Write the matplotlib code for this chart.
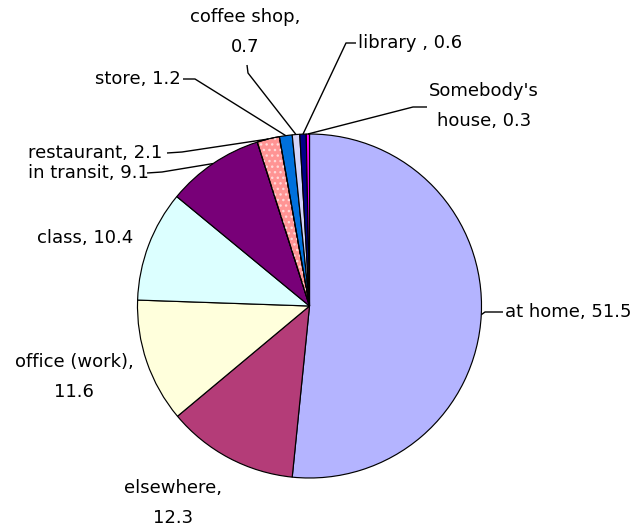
import matplotlib
matplotlib.use('Agg')
import matplotlib.pyplot as plt
import numpy as np
from matplotlib.patches import Wedge

# ---- data ----
categories = ['at home', 'elsewhere', 'office (work)', 'class', 'in transit',
              'restaurant', 'store', 'coffee shop', 'library', "Somebody's house"]
values = [51.5, 12.3, 11.6, 10.4, 9.1, 2.1, 1.2, 0.7, 0.6, 0.3]
label_texts = ['at home, 51.5', 'elsewhere,\n12.3', 'office (work),\n11.6',
               'class, 10.4', 'in transit, 9.1', 'restaurant, 2.1', 'store, 1.2',
               'coffee shop,\n0.7', 'library , 0.6', "Somebody's\nhouse, 0.3"]

# ---- style ----
colors = ['#B4B4FF', '#B43C78', '#FFFFDC', '#DCFFFF', '#780078',
          '#FF9494', '#0070DC', '#D4D4FA', '#000088', '#FF00FF']

W, H = 642, 527
fig = plt.figure(figsize=(W / 100, H / 100), dpi=100)
ax = fig.add_axes([0, 0, 1, 1])

def Y(py):
    return H - py

cx, cy, R = 309.5, Y(306), 172
wedges, _ = ax.pie(values, startangle=90, counterclock=False, colors=colors,
                   center=(cx, cy), radius=R,
                   wedgeprops=dict(edgecolor='black', linewidth=0.85))

# hatch overlay for restaurant slice
w = wedges[5]
ax.add_patch(Wedge(w.center, w.r, w.theta1, w.theta2, facecolor='none',
                   edgecolor='#FFD8D8', hatch='...', linewidth=0))
ax.add_patch(Wedge(w.center, w.r, w.theta1, w.theta2, facecolor='none',
                   edgecolor='black', linewidth=0.85))

ax.set_xlim(0, W)
ax.set_ylim(0, H)
ax.set_aspect('equal')
ax.axis('off')

# label layout: (x, y, ha, leader points in pixel coords from text side)
layout = [
    (505, 312, 'left', [(503, 312), (485, 312)]),
    (173, 503, 'center', None),
    (74, 377, 'center', None),
    (37, 238, 'left', None),
    (28, 173, 'left', [(147, 173), (162, 172)]),
    (28, 153, 'left', [(167, 153), (182, 152)]),
    (181, 79, 'right', [(183, 79), (195, 79)]),
    (245, 32, 'center', [(247, 65), (248, 73)]),
    (358, 43, 'left', [(356, 43), (346, 43)]),
    (484, 106, 'center', [(427, 107), (413, 107)]),
]

for wdg, txt, (tx, ty, ha, pts) in zip(wedges, label_texts, layout):
    ax.text(tx, Y(ty), txt, ha=ha, va='center', fontsize=13,
            family='DejaVu Sans', color='black', linespacing=1.8)
    if pts is not None:
        mid = np.deg2rad((wdg.theta1 + wdg.theta2) / 2)
        ex = wdg.center[0] + wdg.r * np.cos(mid)
        ey = wdg.center[1] + wdg.r * np.sin(mid)
        xs = [p[0] for p in pts] + [ex]
        ys = [Y(p[1]) for p in pts] + [ey]
        ax.plot(xs, ys, color='black', linewidth=1.0, solid_capstyle='butt')

fig.savefig('out.png', dpi=100)
